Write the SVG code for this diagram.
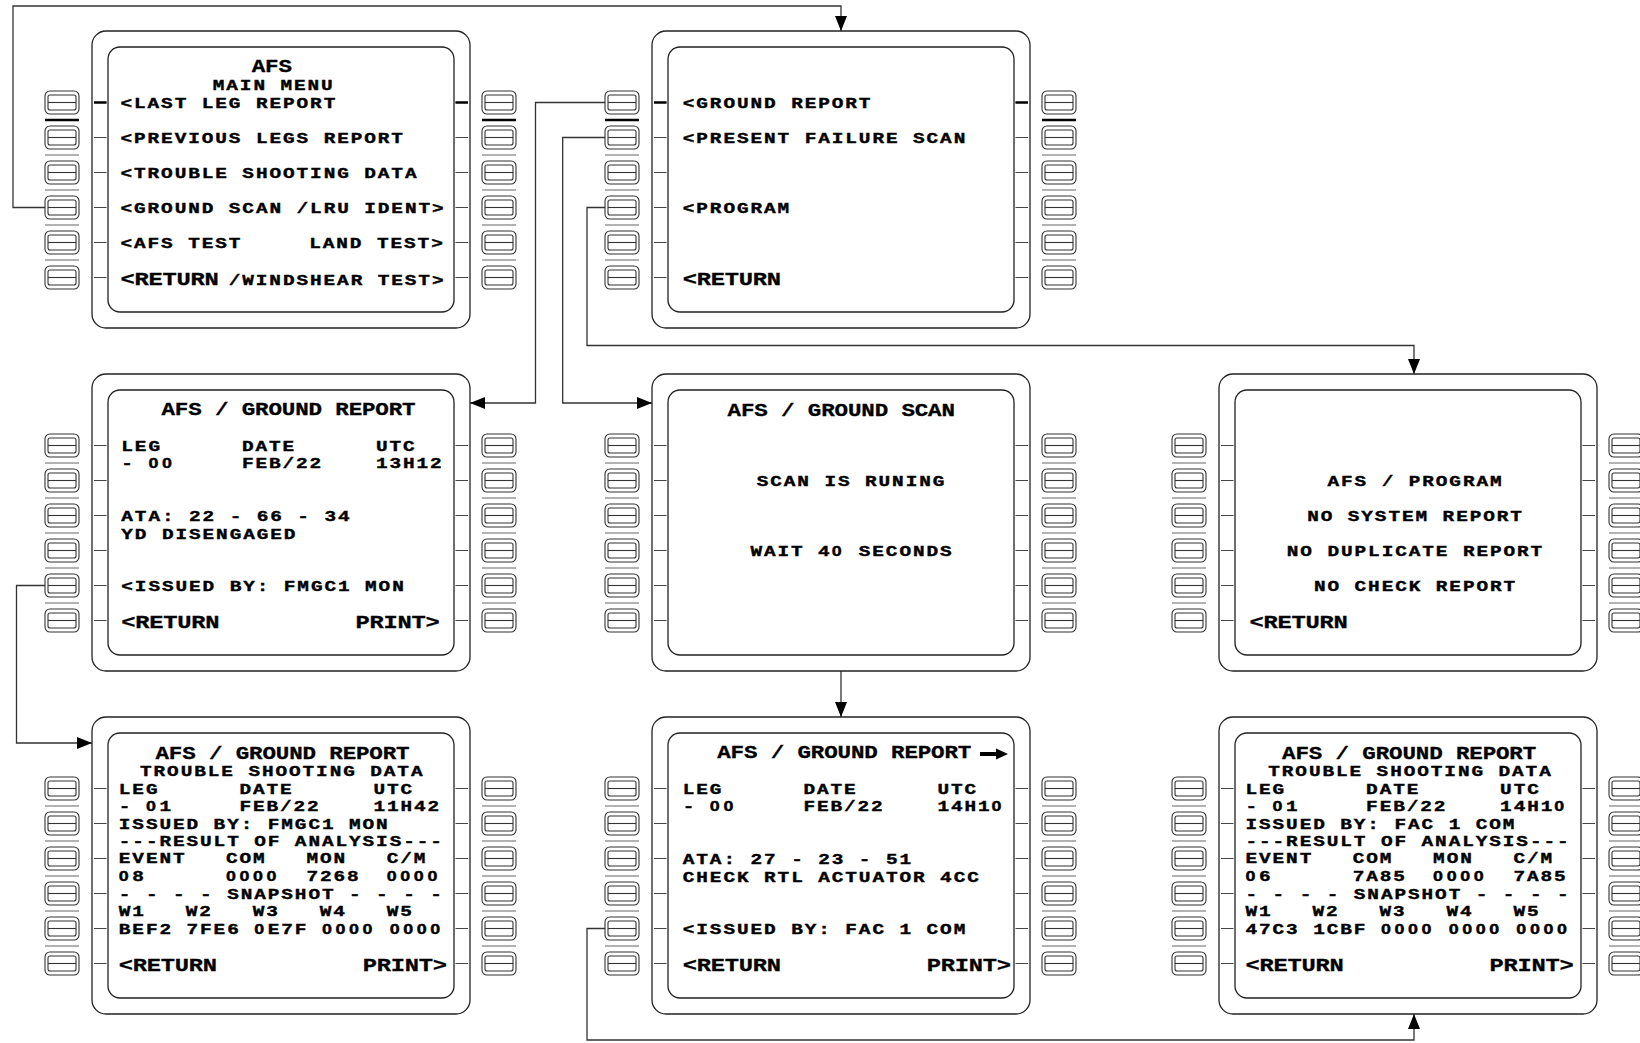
<svg xmlns="http://www.w3.org/2000/svg" width="1640" height="1043" viewBox="0 0 1640 1043">
<style>
.fr{fill:none;stroke:#222;stroke-width:1.3}
.ky{fill:none;stroke:#333;stroke-width:1.1}
.sp{fill:none;stroke:#666;stroke-width:1.2}
.tk{fill:none;stroke:#444;stroke-width:1.2}
.thk{fill:none;stroke:#000;stroke-width:2.4}
.cn{fill:none;stroke:#333;stroke-width:1.3}
text{font-family:'Liberation Mono','DejaVu Sans Mono',monospace;font-weight:bold;fill:#000;stroke:#000;stroke-width:0.4}
.s{font-size:15.5px;letter-spacing:1.54px}
.b{font-size:19px;letter-spacing:-0.2px;stroke-width:0.3}
.h{font-size:18px;letter-spacing:-0.1px;stroke-width:0.3}
.m{text-anchor:middle}
.z{font-family:'Liberation Sans',sans-serif;font-size:14.3px;letter-spacing:2.89px}
</style>
<defs>
<marker id="ah" viewBox="0 0 15 12" refX="15" refY="6" markerWidth="15" markerHeight="12" markerUnits="userSpaceOnUse" orient="auto"><path d="M0,0 L15,6 L0,12 z" fill="#000"/></marker>
<g id="key">
<rect x="-17" y="-11.5" width="34" height="23" rx="5"/>
<rect x="-14" y="-7.5" width="28" height="15" rx="2"/>
<line x1="-14" y1="0" x2="14" y2="0"/>
</g>
<g id="cdu">
<rect class="fr" x="0" y="0" width="378" height="297" rx="14"/>
<rect class="fr" x="16" y="16" width="346" height="265" rx="12"/>
<g class="ky">
<use href="#key" x="-30" y="71.5"/><use href="#key" x="-30" y="106.5"/><use href="#key" x="-30" y="141.5"/>
<use href="#key" x="-30" y="176.5"/><use href="#key" x="-30" y="211.5"/><use href="#key" x="-30" y="246.5"/>
<use href="#key" x="407" y="71.5"/><use href="#key" x="407" y="106.5"/><use href="#key" x="407" y="141.5"/>
<use href="#key" x="407" y="176.5"/><use href="#key" x="407" y="211.5"/><use href="#key" x="407" y="246.5"/>
</g>
<path class="tk" d="M2,71.5H14.5M2,106.5H14.5M2,141.5H14.5M2,176.5H14.5M2,211.5H14.5M2,246.5H14.5M363.5,71.5H376M363.5,106.5H376M363.5,141.5H376M363.5,176.5H376M363.5,211.5H376M363.5,246.5H376"/>
<path class="sp" d="M-47,89H-13M-47,124H-13M-47,159H-13M-47,194H-13M-47,229H-13M390,89H424M390,124H424M390,159H424M390,194H424M390,229H424"/>
</g>
</defs>
<rect x="0" y="0" width="1640" height="1043" fill="#fff"/>

<g id="connectors" class="cn">
<path d="M45,207.5H13V6H841V31" marker-end="url(#ah)"/>
<path d="M605,102.5H535.5V403H470" marker-end="url(#ah)"/>
<path d="M605,137.5H562.7V403H652" marker-end="url(#ah)"/>
<path d="M605,207.5H587V345.5H1414V374" marker-end="url(#ah)"/>
<path d="M45,585.5H16.5V743H92" marker-end="url(#ah)"/>
<path d="M841,671V717" marker-end="url(#ah)"/>
<path d="M605,928.5H587V1040H1414V1014" marker-end="url(#ah)"/>
</g>

<g id="afs-main-menu" transform="translate(92,31)">
<use href="#cdu"/>
<path class="thk" d="M2,71.5H14.5M363.5,71.5H376M-47,89H-13M390,89H424"/>
<g transform="scale(1.25,1)">
<text class="h" x="127.8" y="40.7">AFS</text>
<text class="s" x="96.6" y="59">MAIN MENU</text>
<text class="s" x="22.8" y="76.8">&lt;LAST LEG REPORT</text>
<text class="s" x="22.8" y="111.8">&lt;PREVIOUS LEGS REPORT</text>
<text class="s" x="22.8" y="146.8">&lt;TROUBLE SHOOTING DATA</text>
<text class="s" x="22.8" y="181.8">&lt;GROUND SCAN /LRU IDENT&gt;</text>
<text class="s" x="22.8" y="216.8">&lt;AFS TEST</text>
<text class="s" x="173.8" y="216.8">LAND TEST&gt;</text>
<text class="b" x="22.8" y="254">&lt;RETURN</text>
<text class="s" x="109.4" y="254">/WINDSHEAR TEST&gt;</text>
</g>
</g>

<g id="afs-ground-menu" transform="translate(652,31)">
<use href="#cdu"/>
<path class="thk" d="M2,71.5H14.5M363.5,71.5H376M-47,89H-13M390,89H424"/>
<g transform="scale(1.25,1)">
<text class="s" x="24.64" y="76.8">&lt;GROUND REPORT</text>
<text class="s" x="24.64" y="111.8">&lt;PRESENT FAILURE SCAN</text>
<text class="s" x="24.64" y="181.8">&lt;PROGRAM</text>
<text class="b" x="24.64" y="254">&lt;RETURN</text>
</g>
</g>

<g id="afs-ground-report-1" transform="translate(92,374)">
<use href="#cdu"/>
<g transform="scale(1.25,1)">
<text class="h" x="55.6" y="41">AFS / GROUND REPORT</text>
<text class="s" x="23.44" y="76.7">LEG</text>
<text class="s" x="119.92" y="76.7">DATE</text>
<text class="s" x="227.12" y="76.7">UTC</text>
<text class="s" x="23.44" y="94.3">- <tspan class="z">00</tspan></text>
<text class="s" x="119.92" y="94.3">FEB/22</text>
<text class="s" x="227.12" y="94.3">13H12</text>
<text class="s" x="23.44" y="147">ATA: 22 - 66 - 34</text>
<text class="s" x="23.44" y="165">YD DISENGAGED</text>
<text class="s" x="23.44" y="217">&lt;ISSUED BY: FMGC1 MON</text>
<text class="b" x="23.44" y="254.3">&lt;RETURN</text>
<text class="b" x="210.8" y="254.3">PRINT&gt;</text>
</g>
</g>

<g id="afs-ground-scan" transform="translate(652,374)">
<use href="#cdu"/>
<g transform="scale(1.25,1)">
<text class="h m" x="151.4" y="42">AFS / GROUND SCAN</text>
<text class="s m" x="159.6" y="111.8">SCAN IS RUNING</text>
<text class="s m" x="160" y="181.8">WAIT 4<tspan class="z">0</tspan> SECONDS</text>
</g>
</g>

<g id="afs-program" transform="translate(1219,374)">
<use href="#cdu"/>
<g transform="scale(1.25,1)">
<text class="s m" x="157.2" y="111.8">AFS / PROGRAM</text>
<text class="s m" x="157.2" y="146.8">NO SYSTEM REPORT</text>
<text class="s m" x="157.2" y="181.8">NO DUPLICATE REPORT</text>
<text class="s m" x="157.2" y="216.8">NO CHECK REPORT</text>
<text class="b" x="24.4" y="254">&lt;RETURN</text>
</g>
</g>

<g id="afs-trouble-shooting-1" transform="translate(92,717)">
<use href="#cdu"/>
<g transform="scale(1.25,1)">
<text class="h" x="50.8" y="42.3">AFS / GROUND REPORT</text>
<text class="s m" x="152.2" y="59.5">TROUBLE SHOOTING DATA</text>
<text class="s" x="21.44" y="77">LEG</text>
<text class="s" x="117.92" y="77">DATE</text>
<text class="s" x="225.12" y="77">UTC</text>
<text class="s" x="21.44" y="94.5">- <tspan class="z">0</tspan>1</text>
<text class="s" x="117.92" y="94.5">FEB/22</text>
<text class="s" x="225.12" y="94.5">11H42</text>
<text class="s" x="21.44" y="112">ISSUED BY: FMGC1 MON</text>
<text class="s" x="21.44" y="129.5">---RESULT OF ANALYSIS---</text>
<text class="s" x="21.44" y="146.5">EVENT</text>
<text class="s" x="107.2" y="146.5">COM</text>
<text class="s" x="171.52" y="146.5">MON</text>
<text class="s" x="235.84" y="146.5">C/M</text>
<text class="s" x="21.44" y="164.3"><tspan class="z">0</tspan>8</text>
<text class="s" x="107.2" y="164.3"><tspan class="z">0000</tspan></text>
<text class="s" x="171.52" y="164.3">7268</text>
<text class="s" x="235.84" y="164.3"><tspan class="z">0000</tspan></text>
<text class="s" x="21.44" y="182">- - - - SNAPSHOT - - - -</text>
<text class="s" x="21.44" y="199">W1</text>
<text class="s" x="75.04" y="199">W2</text>
<text class="s" x="128.64" y="199">W3</text>
<text class="s" x="182.24" y="199">W4</text>
<text class="s" x="235.84" y="199">W5</text>
<text class="s" x="21.44" y="216.7">BEF2 7FE6 <tspan class="z">0</tspan>E7F <tspan class="z">0000</tspan> <tspan class="z">0000</tspan></text>
<text class="b" x="21.44" y="254.5">&lt;RETURN</text>
<text class="b" x="216.6" y="254.5">PRINT&gt;</text>
</g>
</g>

<g id="afs-ground-report-2" transform="translate(652,717)">
<use href="#cdu"/>
<path d="M328,35H345V39H328Z M344,31.5 L356,37 L344,42.5 Z" fill="#000"/>
<g transform="scale(1.25,1)">
<text class="h" x="52.2" y="41.5">AFS / GROUND REPORT</text>
<text class="s" x="24.64" y="76.7">LEG</text>
<text class="s" x="121.12" y="76.7">DATE</text>
<text class="s" x="228.32" y="76.7">UTC</text>
<text class="s" x="24.64" y="94.3">- <tspan class="z">00</tspan></text>
<text class="s" x="121.12" y="94.3">FEB/22</text>
<text class="s" x="228.32" y="94.3">14H1<tspan class="z">0</tspan></text>
<text class="s" x="24.64" y="147">ATA: 27 - 23 - 51</text>
<text class="s" x="24.64" y="165">CHECK RTL ACTUATOR 4CC</text>
<text class="s" x="24.64" y="217">&lt;ISSUED BY: FAC 1 COM</text>
<text class="b" x="24.64" y="254.3">&lt;RETURN</text>
<text class="b" x="219.8" y="254.3">PRINT&gt;</text>
</g>
</g>

<g id="afs-trouble-shooting-2" transform="translate(1219,717)">
<use href="#cdu"/>
<g transform="scale(1.25,1)">
<text class="h" x="50.5" y="42.3">AFS / GROUND REPORT</text>
<text class="s m" x="153.2" y="59.5">TROUBLE SHOOTING DATA</text>
<text class="s" x="21.2" y="77">LEG</text>
<text class="s" x="117.68" y="77">DATE</text>
<text class="s" x="224.88" y="77">UTC</text>
<text class="s" x="21.2" y="94.5">- <tspan class="z">0</tspan>1</text>
<text class="s" x="117.68" y="94.5">FEB/22</text>
<text class="s" x="224.88" y="94.5">14H1<tspan class="z">0</tspan></text>
<text class="s" x="21.2" y="112">ISSUED BY: FAC 1 COM</text>
<text class="s" x="21.2" y="129.5">---RESULT OF ANALYSIS---</text>
<text class="s" x="21.2" y="146.5">EVENT</text>
<text class="s" x="106.96" y="146.5">COM</text>
<text class="s" x="171.28" y="146.5">MON</text>
<text class="s" x="235.6" y="146.5">C/M</text>
<text class="s" x="21.2" y="164.3"><tspan class="z">0</tspan>6</text>
<text class="s" x="106.96" y="164.3">7A85</text>
<text class="s" x="171.28" y="164.3"><tspan class="z">0000</tspan></text>
<text class="s" x="235.6" y="164.3">7A85</text>
<text class="s" x="21.2" y="182">- - - - SNAPSHOT - - - -</text>
<text class="s" x="21.2" y="199">W1</text>
<text class="s" x="74.8" y="199">W2</text>
<text class="s" x="128.4" y="199">W3</text>
<text class="s" x="182" y="199">W4</text>
<text class="s" x="235.6" y="199">W5</text>
<text class="s" x="21.2" y="216.7">47C3 1CBF <tspan class="z">0000</tspan> <tspan class="z">0000</tspan> <tspan class="z">0000</tspan></text>
<text class="b" x="21.2" y="254.5">&lt;RETURN</text>
<text class="b" x="216.4" y="254.5">PRINT&gt;</text>
</g>
</g>
</svg>
